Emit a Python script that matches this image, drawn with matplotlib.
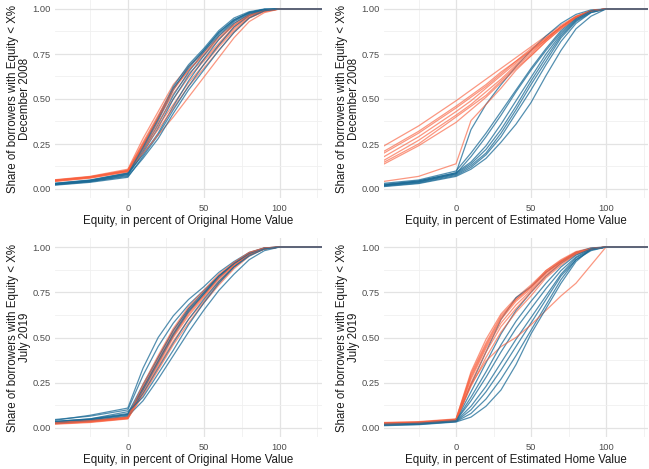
import matplotlib
matplotlib.use("Agg")
import matplotlib.pyplot as plt
from matplotlib.ticker import FixedLocator
import numpy as np

plt.rcParams['font.family'] = ['Liberation Sans', 'DejaVu Sans']

# Equity grid (percent) at which each curve's CDF value was read
equity = [-50, -25, 0, 10, 20, 30, 40, 50, 60, 70, 80, 90, 100, 130]

# ---- December 2008, Original Home Value ----
dec08_orig_red = [
    [.050, .070, .110, .28, .43, .58, .68, .76, .85, .92, .97, .995, 1, 1],
    [.048, .068, .105, .26, .41, .56, .66, .74, .83, .91, .965, .99, 1, 1],
    [.045, .065, .100, .25, .39, .53, .64, .72, .81, .90, .96, .99, 1, 1],
    [.042, .062, .098, .24, .37, .50, .62, .71, .80, .89, .955, .99, 1, 1],
    [.046, .066, .102, .23, .35, .47, .59, .69, .79, .88, .95, .99, 1, 1],
    [.040, .060, .095, .22, .33, .45, .57, .67, .77, .87, .95, .985, 1, 1],
    [.044, .064, .100, .20, .30, .40, .51, .62, .73, .84, .93, .98, 1, 1],
    [.047, .067, .103, .25, .40, .55, .66, .75, .84, .91, .965, .99, 1, 1],
]
dec08_orig_blue = [
    [.030, .050, .090, .24, .40, .57, .69, .78, .88, .95, .985, 1, 1, 1],
    [.028, .047, .085, .22, .38, .55, .68, .77, .87, .94, .98, .998, 1, 1],
    [.025, .043, .080, .21, .36, .52, .65, .76, .86, .935, .98, .997, 1, 1],
    [.022, .040, .075, .20, .34, .50, .63, .74, .85, .93, .975, .995, 1, 1],
    [.030, .048, .088, .19, .31, .46, .60, .72, .83, .92, .97, .995, 1, 1],
    [.020, .037, .065, .18, .30, .44, .57, .69, .80, .90, .965, .993, 1, 1],
    [.026, .045, .082, .23, .39, .56, .67, .77, .87, .94, .98, .998, 1, 1],
    [.024, .042, .070, .17, .28, .42, .55, .66, .77, .87, .95, .99, 1, 1],
]

# ---- December 2008, Estimated Home Value ----
dec08_est_red = [
    [.23, .35, .49, .55, .61, .67, .73, .79, .85, .91, .96, .99, 1, 1],
    [.20, .32, .46, .52, .58, .65, .71, .78, .84, .90, .96, .99, 1, 1],
    [.19, .31, .45, .51, .57, .64, .71, .77, .84, .90, .955, .99, 1, 1],
    [.17, .29, .43, .49, .56, .63, .70, .77, .83, .90, .955, .99, 1, 1],
    [.15, .27, .41, .47, .54, .61, .69, .76, .83, .90, .955, .99, 1, 1],
    [.13, .24, .37, .44, .51, .59, .67, .74, .82, .89, .95, .99, 1, 1],
    [.14, .25, .40, .46, .52, .60, .68, .75, .83, .90, .955, .99, 1, 1],
    [.04, .07, .14, .38, .47, .56, .66, .74, .82, .89, .95, .99, 1, 1],
]
dec08_est_blue = [
    [.020, .045, .09, .33, .47, .58, .68, .77, .85, .92, .97, .995, 1, 1],
    [.030, .050, .10, .20, .31, .43, .55, .67, .78, .88, .95, .99, 1, 1],
    [.025, .045, .09, .15, .24, .36, .49, .62, .75, .86, .94, .985, 1, 1],
    [.020, .040, .085, .14, .22, .33, .46, .60, .73, .85, .935, .985, 1, 1],
    [.018, .037, .08, .13, .20, .31, .44, .58, .71, .84, .93, .98, 1, 1],
    [.015, .033, .075, .12, .19, .29, .42, .55, .69, .82, .92, .98, 1, 1],
    [.012, .030, .07, .11, .17, .26, .36, .48, .63, .77, .89, .96, 1, 1],
    [.020, .040, .085, .18, .29, .41, .54, .66, .77, .87, .945, .99, 1, 1],
]

# ---- July 2019, Original Home Value ----
jul19_orig_red = [
    [.030, .040, .060, .23, .39, .54, .66, .75, .84, .91, .97, .995, 1, 1],
    [.028, .038, .058, .22, .38, .53, .65, .74, .83, .905, .965, .995, 1, 1],
    [.025, .035, .055, .21, .37, .52, .64, .73, .82, .90, .96, .99, 1, 1],
    [.022, .033, .052, .20, .35, .50, .62, .72, .81, .895, .96, .99, 1, 1],
    [.020, .030, .050, .19, .34, .48, .60, .70, .80, .89, .955, .99, 1, 1],
    [.027, .037, .056, .22, .36, .51, .63, .73, .83, .90, .96, .99, 1, 1],
    [.023, .034, .053, .18, .32, .46, .58, .69, .79, .88, .95, .99, 1, 1],
    [.030, .040, .060, .24, .40, .55, .67, .76, .85, .915, .97, .995, 1, 1],
]
jul19_orig_blue = [
    [.040, .070, .11, .33, .50, .62, .71, .78, .86, .92, .97, .995, 1, 1],
    [.045, .065, .10, .29, .45, .58, .68, .76, .84, .91, .96, .99, 1, 1],
    [.035, .050, .08, .24, .39, .54, .66, .75, .84, .91, .965, .995, 1, 1],
    [.030, .045, .07, .21, .36, .51, .64, .74, .83, .91, .96, .99, 1, 1],
    [.030, .045, .075, .19, .33, .47, .60, .71, .81, .89, .955, .99, 1, 1],
    [.025, .040, .065, .15, .27, .40, .53, .65, .76, .85, .93, .98, 1, 1],
    [.032, .048, .075, .22, .37, .52, .65, .74, .84, .91, .965, .993, 1, 1],
    [.035, .050, .09, .17, .30, .43, .57, .69, .80, .89, .95, .99, 1, 1],
]

# ---- July 2019, Estimated Home Value ----
jul19_est_red = [
    [.030, .035, .050, .31, .49, .63, .72, .79, .87, .93, .975, .995, 1, 1],
    [.028, .033, .048, .30, .47, .62, .71, .78, .86, .92, .97, .99, 1, 1],
    [.025, .030, .045, .28, .45, .60, .70, .77, .86, .92, .97, .99, 1, 1],
    [.022, .028, .042, .27, .44, .58, .68, .76, .85, .915, .965, .99, 1, 1],
    [.020, .026, .040, .25, .42, .56, .66, .75, .84, .91, .96, .99, 1, 1],
    [.026, .031, .046, .29, .46, .61, .71, .78, .87, .925, .97, .99, 1, 1],
    [.020, .027, .040, .24, .37, .45, .50, .57, .65, .73, .80, .90, 1, 1],
    [.024, .030, .044, .23, .39, .53, .64, .73, .83, .90, .96, .99, 1, 1],
]
jul19_est_blue = [
    [.025, .030, .045, .24, .42, .60, .72, .78, .86, .92, .97, .995, 1, 1],
    [.022, .028, .042, .20, .36, .52, .65, .75, .84, .91, .965, .99, 1, 1],
    [.020, .026, .040, .15, .28, .42, .55, .66, .77, .87, .945, .99, 1, 1],
    [.018, .024, .038, .12, .23, .36, .49, .61, .73, .85, .94, .985, 1, 1],
    [.016, .022, .036, .10, .20, .32, .45, .58, .71, .84, .93, .985, 1, 1],
    [.015, .020, .035, .08, .16, .27, .40, .54, .68, .82, .93, .98, 1, 1],
    [.012, .018, .033, .06, .12, .21, .35, .52, .66, .80, .92, .99, 1, 1],
    [.020, .026, .040, .17, .31, .46, .59, .70, .80, .89, .955, .99, 1, 1],
]

panels = [
    (dec08_orig_red, dec08_orig_blue, "December 2008", "Original"),
    (dec08_est_red, dec08_est_blue, "December 2008", "Estimated"),
    (jul19_orig_red, jul19_orig_blue, "July 2019", "Original"),
    (jul19_est_red, jul19_est_blue, "July 2019", "Estimated"),
]

x_major = [0, 50, 100]
x_minor = [-25, 25, 75, 125]
y_major = [0, 0.25, 0.5, 0.75, 1.0]
y_minor = [0.125, 0.375, 0.625, 0.875]

RED = "#F9603E"
BLUE = "#1A6A96"

W, H = 649, 469
fig = plt.figure(figsize=(W / 100, H / 100), dpi=100)

# panel boxes in pixels: left, right, top, bottom
boxes = [(55, 322, 0, 198), (384, 648, 0, 198),
         (55, 322, 238, 437), (384, 648, 238, 437)]
ylab_x = [19, 348, 19, 348]

for i, ((reds, blues, period, basis), (l, r, t, b)) in enumerate(zip(panels, boxes)):
    ax = fig.add_axes([l / W, 1 - b / H, (r - l) / W, (b - t) / H])
    for rc, bc in zip(reds, blues):
        ax.plot(equity, rc, color=RED, alpha=0.65, lw=0.9, solid_joinstyle='round')
        ax.plot(equity, bc, color=BLUE, alpha=0.75, lw=0.9, solid_joinstyle='round')
    ax.set_xlim(-48, 128)
    ax.set_ylim(-0.05, 1.05)
    ax.xaxis.set_major_locator(FixedLocator(x_major))
    ax.xaxis.set_minor_locator(FixedLocator(x_minor))
    ax.yaxis.set_major_locator(FixedLocator(y_major))
    ax.yaxis.set_minor_locator(FixedLocator(y_minor))
    ax.set_yticklabels(["0.00", "0.25", "0.50", "0.75", "1.00"])
    ax.grid(which='major', color='#E3E3E3', lw=0.9)
    ax.grid(which='minor', color='#F0F0F0', lw=0.6)
    ax.set_axisbelow(True)
    for s in ax.spines.values():
        s.set_visible(False)
    ax.tick_params(which='both', length=0)
    ax.tick_params(axis='both', labelsize=6.65, labelcolor='#4D4D4D', pad=3)
    ax.tick_params(axis='x', pad=4)
    ax.set_xlabel(f"Equity, in percent of {basis} Home Value", fontsize=8.3,
                  color='#1A1A1A', labelpad=2)
    yc = (t + b) / 2
    fig.text(ylab_x[i] / W, 1 - yc / H,
             f"Share of borrowers with Equity < X%\n{period}",
             rotation=90, ha='center', va='center', multialignment='center',
             fontsize=8.3, color='#1A1A1A', linespacing=1.1)

fig.savefig("out.png", dpi=100)
